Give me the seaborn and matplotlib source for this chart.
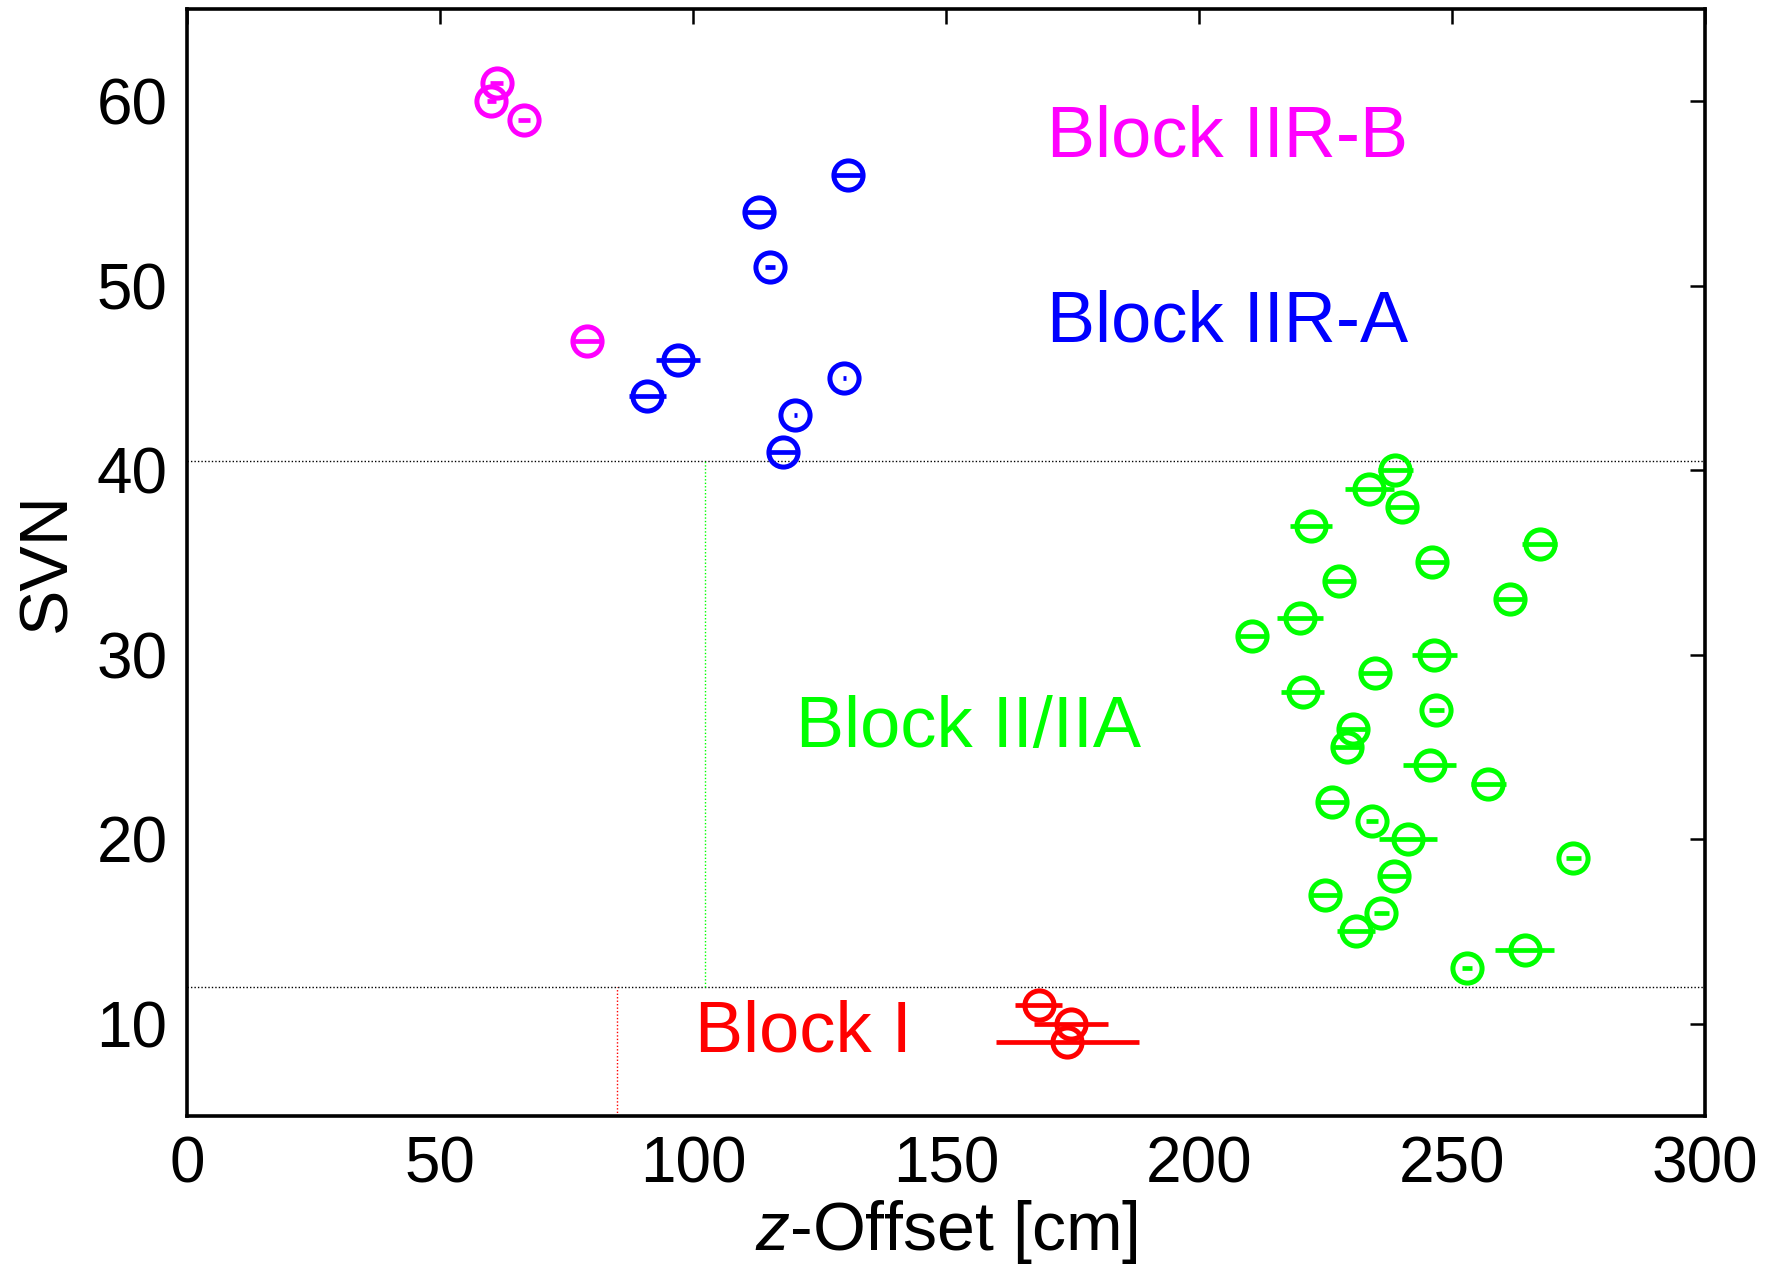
import numpy as np
import pandas as pd
import matplotlib
matplotlib.use("Agg")
import matplotlib.pyplot as plt
import seaborn as sns

# Block II/IIA
svn_iia = [40, 39, 38, 37, 36, 35, 34, 33, 32, 31, 30, 29, 28, 27,
           26, 25, 24, 23, 22, 21, 20, 19, 18, 17, 16, 15, 14, 13]
z_iia = [238.8, 233.7, 240.2, 222.1, 267.3, 246.0, 227.7, 261.5, 220.0, 210.4,
         246.5, 234.8, 220.5, 246.9, 230.4, 229.2, 245.6, 257.2, 226.3, 234.2,
         241.3, 274.0, 238.6, 225.0, 236.0, 231.0, 264.4, 253.0]
err_iia = [3.5, 4.9, 3.0, 4.2, 3.5, 3.0, 3.0, 3.0, 4.5, 3.0,
           4.4, 3.2, 4.3, 1.5, 3.0, 3.0, 5.2, 3.4, 3.0, 1.2,
           5.8, 1.5, 3.2, 3.0, 1.5, 3.8, 5.8, 1.0]

# Block IIR-A
svn_iira = [56, 54, 51, 46, 45, 44, 43, 41]
z_iira = [130.6, 113.1, 115.2, 97.0, 129.9, 91.0, 120.2, 117.7]
err_iira = [3.0, 3.0, 1.0, 4.3, 0.3, 3.6, 0.3, 3.0]

# Block IIR-B
svn_iirb = [61, 60, 59, 47]
z_iirb = [61.2, 60.1, 66.6, 79.0]
err_iirb = [1.3, 0.9, 1.2, 3.0]

# Block I
svn_i = [11, 10, 9]
z_i = [168.3, 174.7, 174.0]
err_i = [4.7, 7.3, 14.1]

blocks = ["Block I", "Block II/IIA", "Block IIR-A", "Block IIR-B"]
colors = ["#FF0000", "#00FF00", "#0000FF", "#FF00FF"]
label_x = [100.3, 120.4, 170.0, 170.0]
label_y = [9.5, 26.0, 48.0, 58.0]

boundary_svn = [12, 40.5]
mean_x = [85.0, 102.3]

df = pd.concat([
    pd.DataFrame({"block": "Block I", "svn": svn_i, "z": z_i, "err": err_i}),
    pd.DataFrame({"block": "Block II/IIA", "svn": svn_iia, "z": z_iia, "err": err_iia}),
    pd.DataFrame({"block": "Block IIR-A", "svn": svn_iira, "z": z_iira, "err": err_iira}),
    pd.DataFrame({"block": "Block IIR-B", "svn": svn_iirb, "z": z_iirb, "err": err_iirb}),
])

sns.set_theme(style="white")
plt.rcParams['font.family'] = ['Liberation Sans', 'DejaVu Sans']
plt.rcParams['mathtext.fontset'] = 'custom'
plt.rcParams['mathtext.it'] = 'Liberation Sans:italic'
plt.rcParams['mathtext.rm'] = 'Liberation Sans'
plt.rcParams['text.color'] = 'black'
plt.rcParams['axes.labelcolor'] = 'black'
plt.rcParams['xtick.color'] = 'black'
plt.rcParams['ytick.color'] = 'black'

fig = plt.figure(figsize=(17.76, 12.69), dpi=100)
ax = fig.add_axes([0.1053, 0.1206, 0.8547, 0.8723])

pal = dict(zip(blocks, colors))
for name, grp in df.groupby("block"):
    ax.errorbar(grp["z"], grp["svn"], xerr=grp["err"], fmt="o", ms=21,
                mfc="none", mec=pal[name], mew=3.6, ecolor=pal[name],
                elinewidth=3.4, capsize=0, zorder=3)

for yy in boundary_svn:
    ax.axhline(yy, color="black", ls=(0, (1, 1.5)), lw=1.0, zorder=1)
ax.plot([mean_x[0], mean_x[0]], [5, boundary_svn[0]], color=colors[0], ls=(0, (1, 1.5)), lw=1.0)
ax.plot([mean_x[1], mean_x[1]], [boundary_svn[0], boundary_svn[1]], color=colors[1], ls=(0, (1, 1.5)), lw=1.0)

for name, c, lx, ly in zip(blocks, colors, label_x, label_y):
    ax.text(lx, ly, name, color=c, fontsize=52, ha="left", va="center")

ax.set_xlim(0, 300)
ax.set_ylim(5, 65)
ax.set_xticks([0, 50, 100, 150, 200, 250, 300])
ax.set_yticks([10, 20, 30, 40, 50, 60])
ax.tick_params(direction="in", length=11, width=1.8, labelsize=46,
               top=True, right=True, pad=14, colors="black")
for s in ax.spines.values():
    s.set_linewidth(2.6)
    s.set_color("black")
ax.set_xlabel(r"$z$-Offset [cm]", fontsize=49, labelpad=2)
ax.set_ylabel("SVN", fontsize=49, labelpad=12)

fig.savefig("out.png", dpi=100)
